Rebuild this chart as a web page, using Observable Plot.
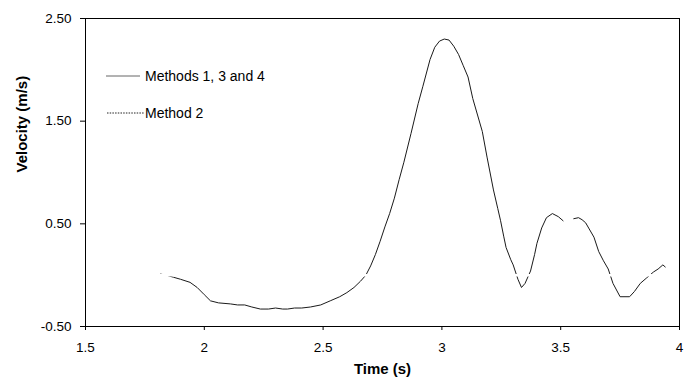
<!DOCTYPE html>
<html>
<head>
<meta charset="utf-8">
<script src="https://cdn.jsdelivr.net/npm/d3@7"></script>
<script src="https://cdn.jsdelivr.net/npm/@observablehq/plot@0.6"></script>
<style>
  html, body { margin: 0; padding: 0; background: #fff; }
  #wrap { position: relative; width: 691px; height: 382px; font-family: "Liberation Sans", Arial, sans-serif; }
  #legend { position: absolute; left: 0; top: 0; pointer-events: none; }
</style>
</head>
<body>
<div id="wrap"></div>
<script>
// Time (s) and velocity (m/s); null marks a gap in the trace
const time = [1.816,1.84,1.87,1.90,1.94,1.97,2.00,2.026,2.06,2.11,2.14,2.17,2.20,2.236,2.27,2.30,2.33,2.35,2.38,2.41,2.447,2.49,2.53,2.57,2.60,2.63,2.657,2.68,2.70,2.72,2.74,2.76,2.78,2.80,2.82,2.84,2.87,2.90,2.92,2.95,2.97,2.99,3.01,3.03,3.05,3.07,3.09,3.11,3.13,3.15,3.17,3.19,3.217,3.235,3.247,3.26,3.27,3.29,3.30,3.32,3.335,3.35,3.373,3.39,3.40,3.42,3.44,3.465,3.49,3.51,3.53,3.555,3.575,3.59,3.605,3.62,3.64,3.66,3.68,3.70,3.72,3.75,3.79,3.81,3.835,3.86,3.89,3.91,3.93,3.94];
const velocity = [0.01,0.0,-0.02,-0.04,-0.07,-0.12,-0.19,-0.25,-0.27,-0.28,-0.29,-0.29,-0.31,-0.33,-0.33,-0.32,-0.33,-0.33,-0.32,-0.32,-0.31,-0.29,-0.25,-0.21,-0.17,-0.12,-0.06,0.0,0.09,0.20,0.33,0.47,0.60,0.75,0.93,1.10,1.38,1.67,1.84,2.10,2.22,2.28,2.30,2.29,2.23,2.15,2.04,1.93,1.72,1.56,1.40,1.15,0.83,0.65,0.53,0.38,0.27,0.15,0.10,-0.04,-0.12,-0.08,0.04,0.20,0.31,0.46,0.56,0.60,0.57,0.53,null,0.55,0.56,0.54,0.51,0.45,0.37,0.23,0.14,0.06,-0.08,-0.21,-0.21,-0.16,-0.08,-0.03,0.03,0.06,0.10,0.08];
const xTicks = [1.5, 2, 2.5, 3, 3.5, 4];
const xTickLabels = ["1.5", "2", "2.5", "3", "3.5", "4"];
const yTicks = [-0.5, 0.5, 1.5, 2.5];
const yTickLabels = ["-0.50", "0.50", "1.50", "2.50"];
const seriesNames = ["Methods 1, 3 and 4", "Method 2"];
const xTitle = "Time (s)";
const yTitle = "Velocity (m/s)";

const data = time.map((t, i) => ({t, v: velocity[i]}));

const chart = Plot.plot({
  width: 691,
  height: 382,
  marginLeft: 85,
  marginRight: 12,
  marginTop: 18,
  marginBottom: 56,
  style: {fontFamily: "'Liberation Sans', Arial, sans-serif", fontSize: "13.5px", color: "#000", background: "#fff"},
  x: {domain: [1.5, 4]},
  y: {domain: [-0.5, 2.5]},
  marks: [
    Plot.line(data, {x: "t", y: "v", stroke: "#1a1a1a", strokeWidth: 1, curve: "linear"}),
    Plot.ruleY([0], {x1: 1.5, x2: 3.995, stroke: "#fff", strokeWidth: 2.5}),
    Plot.frame({stroke: "#000", strokeWidth: 1}),
    Plot.axisX({ticks: xTicks, tickFormat: (d) => xTickLabels[xTicks.indexOf(d)], tickSize: 4, tickPadding: 12, label: null, fontSize: 13.5}),
    Plot.axisY({ticks: yTicks, tickFormat: (d) => yTickLabels[yTicks.indexOf(d)], tickSize: 5, tickPadding: 9, label: null, fontSize: 13.5}),
    Plot.text([xTitle], {frameAnchor: "bottom", dy: 43, lineAnchor: "middle", fontWeight: "bold", fontSize: 15}),
    Plot.text([yTitle], {frameAnchor: "left", dx: -63, rotate: -90, lineAnchor: "middle", fontWeight: "bold", fontSize: 15})
  ]
});

const wrap = document.getElementById("wrap");
wrap.appendChild(chart);

// Legend overlay (inside the plot area, top-left)
const ns = "http://www.w3.org/2000/svg";
const leg = document.createElementNS(ns, "svg");
leg.setAttribute("id", "legend");
leg.setAttribute("width", 691);
leg.setAttribute("height", 382);
const items = [
  {name: seriesNames[0], y: 76, dash: null, x1: 106, x2: 140, color: "#666"},
  {name: seriesNames[1], y: 113, dash: "1.5,1.2", x1: 107, x2: 144, color: "#222"}
];
for (const it of items) {
  const ln = document.createElementNS(ns, "line");
  ln.setAttribute("x1", it.x1); ln.setAttribute("x2", it.x2);
  ln.setAttribute("y1", it.y); ln.setAttribute("y2", it.y);
  ln.setAttribute("stroke", it.color);
  ln.setAttribute("stroke-width", 1);
  if (it.dash) ln.setAttribute("stroke-dasharray", it.dash);
  leg.appendChild(ln);
  const tx = document.createElementNS(ns, "text");
  tx.setAttribute("x", 145);
  tx.setAttribute("y", it.y);
  tx.setAttribute("dy", "0.35em");
  tx.setAttribute("font-size", "14px");
  tx.setAttribute("font-family", "'Liberation Sans', Arial, sans-serif");
  tx.setAttribute("fill", "#000");
  tx.textContent = it.name;
  leg.appendChild(tx);
}
wrap.appendChild(leg);
</script>
</body>
</html>
